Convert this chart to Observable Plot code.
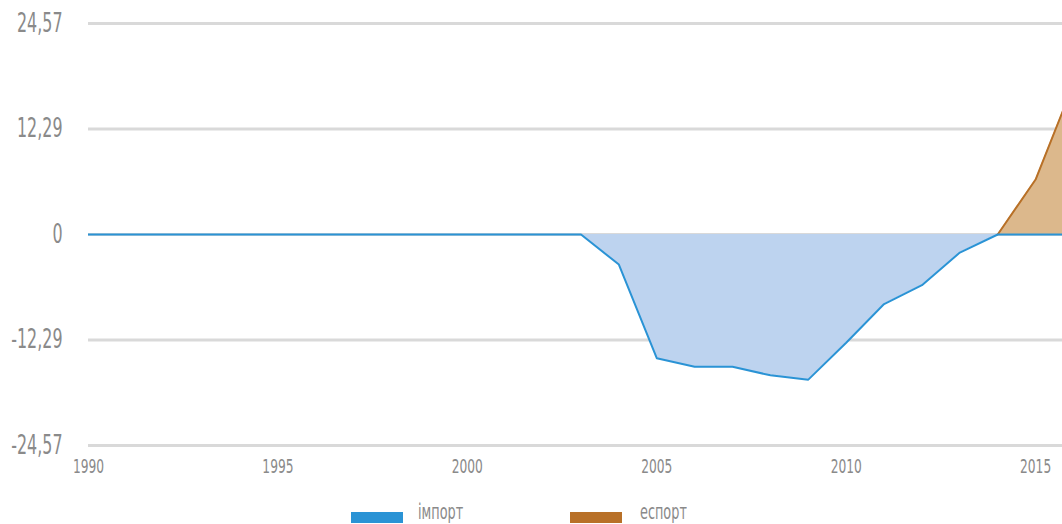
<!DOCTYPE html>
<html>
<head>
<meta charset="utf-8">
<script src="https://cdn.jsdelivr.net/npm/d3@7"></script>
<script src="https://cdn.jsdelivr.net/npm/@observablehq/plot@0.6"></script>
<style>
  html, body { margin: 0; padding: 0; background: #fff; overflow: hidden; }
  body { width: 1062px; height: 524px; position: relative; font-family: "DejaVu Sans Condensed", "Liberation Sans Narrow", sans-serif; }
  #chart { position: absolute; left: 0; top: 0; }
  .legend { position: absolute; top: 500px; left: 0; width: 1062px; height: 24px; }
  .sw { position: absolute; top: 12px; width: 52px; height: 11px; }
  .lt { position: absolute; top: 1px; font-size: 21px; color: #8a8a8a; line-height: 22px; transform: scaleX(0.68); transform-origin: 0 0; white-space: nowrap; }
</style>
</head>
<body>
<div id="chart"></div>
<div class="legend">
  <div class="sw" style="left:351px;background:#2a93d5"></div>
  <div class="lt" id="l1" style="left:418px"></div>
  <div class="sw" style="left:570px;background:#b87027"></div>
  <div class="lt" id="l2" style="left:640px"></div>
</div>
<script>
const years = d3.range(1990, 2017);
const importValues = [0,0,0,0,0,0,0,0,0,0,0,0,0,0,-3.5,-14.4,-15.4,-15.4,-16.4,-16.9,-12.6,-8.1,-5.9,-2.1,0,0,0];
const exportValues = [null,null,null,null,null,null,null,null,null,null,null,null,null,null,null,null,null,null,null,null,null,null,null,null,0,6.4,17.5];
const yTicks = [-24.57, -12.285, 0, 12.285, 24.57];
const yTickLabels = ["-24,57", "-12,29", "0", "12,29", "24,57"];
const xTicks = [1990, 1995, 2000, 2005, 2010, 2015];
const seriesNames = ["імпорт", "еспорт"];
const colors = { importLine: "#2a93d5", importFill: "#bdd3ef", exportLine: "#b87027", exportFill: "#dcb88c" };

document.getElementById("l1").textContent = seriesNames[0];
document.getElementById("l2").textContent = seriesNames[1];

const imp = years.map((y, i) => ({ year: y, value: importValues[i] }));
const exp = years.map((y, i) => ({ year: y, value: exportValues[i] }));

const chart = Plot.plot({
  width: 1062,
  height: 490,
  marginTop: 23,
  marginBottom: 45,
  marginLeft: 88,
  marginRight: 0,
  style: { fontFamily: '"DejaVu Sans Condensed", "Liberation Sans Narrow", sans-serif', color: "#8a8a8a", background: "transparent" },
  x: { domain: [1990, 2015.71], label: null },
  y: { domain: [-24.57, 24.57], label: null },
  marks: [
    Plot.ruleY(yTicks, { stroke: "#d9d9d9", strokeWidth: 3 }),
    Plot.areaY(imp, { x: "year", y: "value", fill: colors.importFill, clip: true }),
    Plot.areaY(exp, { x: "year", y: "value", fill: colors.exportFill, clip: true }),
    Plot.lineY(exp, { x: "year", y: "value", stroke: colors.exportLine, strokeWidth: 2, clip: true }),
    Plot.lineY(imp, { x: "year", y: "value", stroke: colors.importLine, strokeWidth: 2, clip: true }),
    Plot.axisX({ ticks: xTicks, tickFormat: d => String(d), tickSize: 0, tickPadding: 13, fontSize: 20, fill: "#8a8a8a", className: "cx" }),
    Plot.axisY({ ticks: yTicks, tickFormat: d => yTickLabels[yTicks.indexOf(d)], tickSize: 0, tickPadding: 26, fontSize: 26, fill: "#8a8a8a", className: "cy" })
  ]
});
document.getElementById("chart").appendChild(chart);

// condense axis text horizontally (narrow face like the reference)
chart.querySelectorAll('g[aria-label="x-axis tick label"] text, g[aria-label="y-axis tick label"] text').forEach(t => {
  const f = 0.68;
  const tr = t.getAttribute("transform");
  if (tr) {
    t.setAttribute("transform", tr + ` scale(${f},1)`);
  } else {
    const x = +t.getAttribute("x") || 0, y = +t.getAttribute("y") || 0;
    t.removeAttribute("x"); t.removeAttribute("y");
    t.setAttribute("transform", `translate(${x},${y}) scale(${f},1)`);
  }
});
</script>
</body>
</html>
